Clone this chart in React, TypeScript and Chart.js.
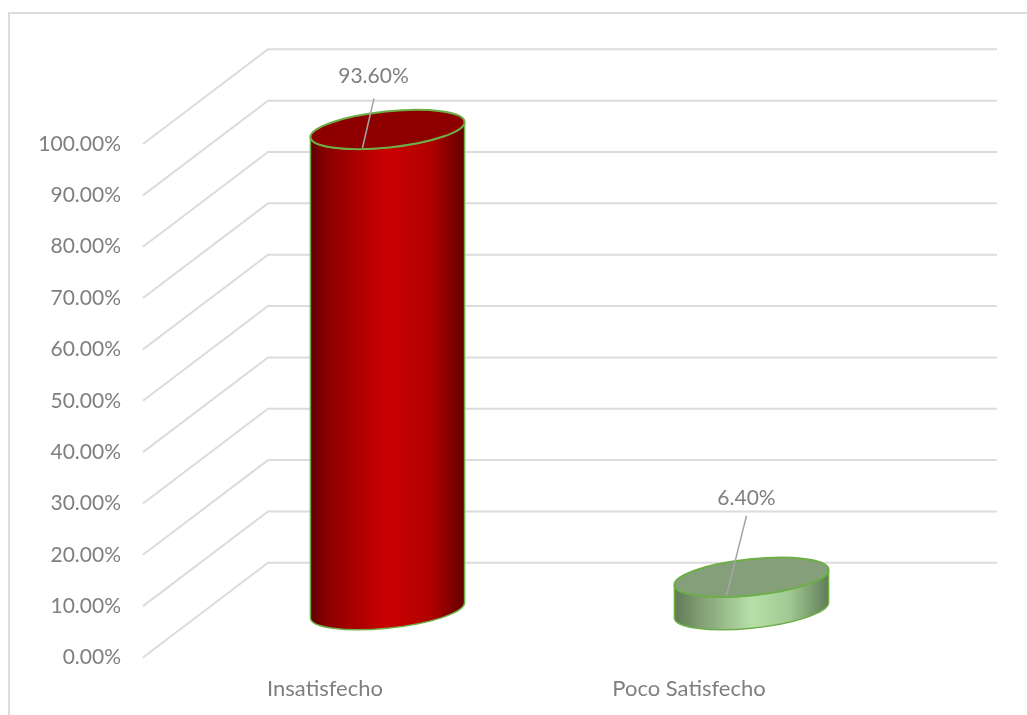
import React, { useEffect, useRef } from "react";
import { Chart, registerables } from "chart.js";

Chart.register(...registerables);

const categories = ["Insatisfecho", "Poco Satisfecho"];
const percentages = [93.6, 6.4];
const valueLabels = ["93.60%", "6.40%"];

// Horizontal gradient stops, top-face fill and rim for each cylinder.
const sideStops = [
  [[0, "#5c0000"], [0.1, "#8a0000"], [0.5, "#cc0000"], [0.78, "#b00000"], [1, "#640000"]],
  [[0, "#5f7a55"], [0.16, "#7f9c72"], [0.5, "#b7dfa8"], [0.75, "#a0c892"], [1, "#617c57"]],
];
const topFills = ["#8e0000", "#869f7b"];
const rimColor = "#6eae47";

// Leader line top and label centre, relative to the centre of the top face.
const leaderTops = [[-13.5, -31], [-5, -61.5]];
const labelCentres = [[-14, -53], [-5, -79.5]];

const FONT = "Lato, Carlito, sans-serif";
const TEXT = "#7f7f7f";
const GRID = "#dcdcdc";
const DEPTH_X = 125;
const DEPTH_Y = 94.7;
const TILT = (-5.9 * Math.PI) / 180;
const FLATNESS = 0.2326;

// Chart frame: only the top and left edges fall inside the canvas.
const framePlugin = {
  id: "frame",
  beforeDraw(chart: any) {
    const { ctx, width, height } = chart;
    ctx.save();
    ctx.fillStyle = "#ffffff";
    ctx.fillRect(0, 0, width, height);
    ctx.strokeStyle = GRID;
    ctx.lineWidth = 2;
    ctx.beginPath();
    ctx.moveTo(9, height);
    ctx.lineTo(9, 13);
    ctx.lineTo(width, 13);
    ctx.stroke();
    ctx.restore();
  },
};

// Gridlines run diagonally across the floor and then along the back wall.
const wallPlugin = {
  id: "wall",
  beforeDatasetsDraw(chart: any) {
    const { ctx, chartArea } = chart;
    const y = chart.scales.y;
    ctx.save();
    ctx.strokeStyle = GRID;
    ctx.lineWidth = 2;
    y.ticks.forEach((tick: any) => {
      const p = y.getPixelForValue(tick.value);
      ctx.beginPath();
      ctx.moveTo(chartArea.left, p);
      ctx.lineTo(chartArea.left + DEPTH_X, p - DEPTH_Y);
      ctx.lineTo(chartArea.right + DEPTH_X + 1, p - DEPTH_Y);
      ctx.stroke();
    });
    ctx.restore();
  },
};

// Each bar element is drawn as a tilted cylinder standing mid-way into the depth.
const cylinderPlugin = {
  id: "cylinder",
  afterDatasetsDraw(chart: any) {
    const { ctx } = chart;
    const bars = chart.getDatasetMeta(0).data;
    bars.forEach((bar: any, i: number) => {
      const cx = bar.x + DEPTH_X / 2;
      const topY = bar.y - DEPTH_Y / 2;
      const baseY = bar.base - DEPTH_Y / 2;
      const a = (bar.width / 2) * 1.005;
      const b = a * FLATNESS;
      const t0 = Math.atan(-FLATNESS * Math.tan(TILT));
      const pt = (t: number, yc: number) => [
        cx + a * Math.cos(t) * Math.cos(TILT) - b * Math.sin(t) * Math.sin(TILT),
        yc + a * Math.cos(t) * Math.sin(TILT) + b * Math.sin(t) * Math.cos(TILT),
      ];
      const [lx, ly] = pt(t0 + Math.PI, topY);
      const [rx, ry] = pt(t0, topY);

      ctx.save();
      const grad = ctx.createLinearGradient(lx, 0, rx, 0);
      sideStops[i].forEach(([o, c]) => grad.addColorStop(o as number, c as string));
      ctx.beginPath();
      ctx.moveTo(lx, ly);
      ctx.lineTo(lx, ly + baseY - topY);
      ctx.ellipse(cx, baseY, a, b, TILT, t0 + Math.PI, t0, true);
      ctx.lineTo(rx, ry);
      ctx.ellipse(cx, topY, a, b, TILT, t0, t0 + Math.PI, false);
      ctx.closePath();
      ctx.fillStyle = grad;
      ctx.fill();
      ctx.strokeStyle = rimColor;
      ctx.lineWidth = 1.5;
      ctx.stroke();

      ctx.beginPath();
      ctx.ellipse(cx, topY, a, b, TILT, 0, Math.PI * 2);
      ctx.fillStyle = topFills[i];
      ctx.fill();
      ctx.lineWidth = 2;
      ctx.stroke();

      // Leader line and value label
      ctx.beginPath();
      ctx.moveTo(cx + leaderTops[i][0], topY + leaderTops[i][1]);
      ctx.lineTo(cx - 25, topY + 18.2);
      ctx.strokeStyle = "#a6a6a6";
      ctx.lineWidth = 1.5;
      ctx.stroke();

      ctx.fillStyle = TEXT;
      ctx.font = `21px ${FONT}`;
      ctx.textAlign = "center";
      ctx.textBaseline = "middle";
      ctx.fillText(valueLabels[i], cx + labelCentres[i][0], topY + labelCentres[i][1]);
      ctx.restore();
    });
  },
};

export default function App() {
  const ref = useRef<HTMLCanvasElement>(null);

  useEffect(() => {
    document.body.style.margin = "0";
    const chart = new Chart(ref.current as HTMLCanvasElement, {
      type: "bar",
      data: {
        labels: categories,
        datasets: [
          {
            data: percentages,
            backgroundColor: "rgba(0,0,0,0)",
            borderWidth: 0,
            categoryPercentage: 1,
            barPercentage: 0.4235,
          },
        ],
      },
      options: {
        responsive: false,
        animation: false,
        events: [],
        layout: { padding: { left: 0, right: 156, top: 144, bottom: 0 } },
        plugins: { legend: { display: false }, tooltip: { enabled: false } },
        scales: {
          x: {
            grid: { display: false },
            border: { display: false },
            afterFit(scale: any) {
              scale.height = 715 - 657.5;
            },
            ticks: {
              color: TEXT,
              padding: 10,
              maxRotation: 0,
              font: { family: FONT, size: 22 },
            },
          },
          y: {
            min: 0,
            max: 100,
            grid: { display: false },
            border: { display: false },
            afterFit(scale: any) {
              scale.width = 143;
            },
            ticks: {
              stepSize: 10,
              color: TEXT,
              padding: 14,
              font: { family: FONT, size: 21 },
              callback: (v: any) => `${Number(v).toFixed(2)}%`,
            },
          },
        },
      },
      plugins: [framePlugin, wallPlugin, cylinderPlugin],
    } as any);
    return () => chart.destroy();
  }, []);

  return (
    <div style={{ width: 1027, height: 715 }}>
      <canvas ref={ref} width={1027} height={715} style={{ display: "block" }} />
    </div>
  );
}
